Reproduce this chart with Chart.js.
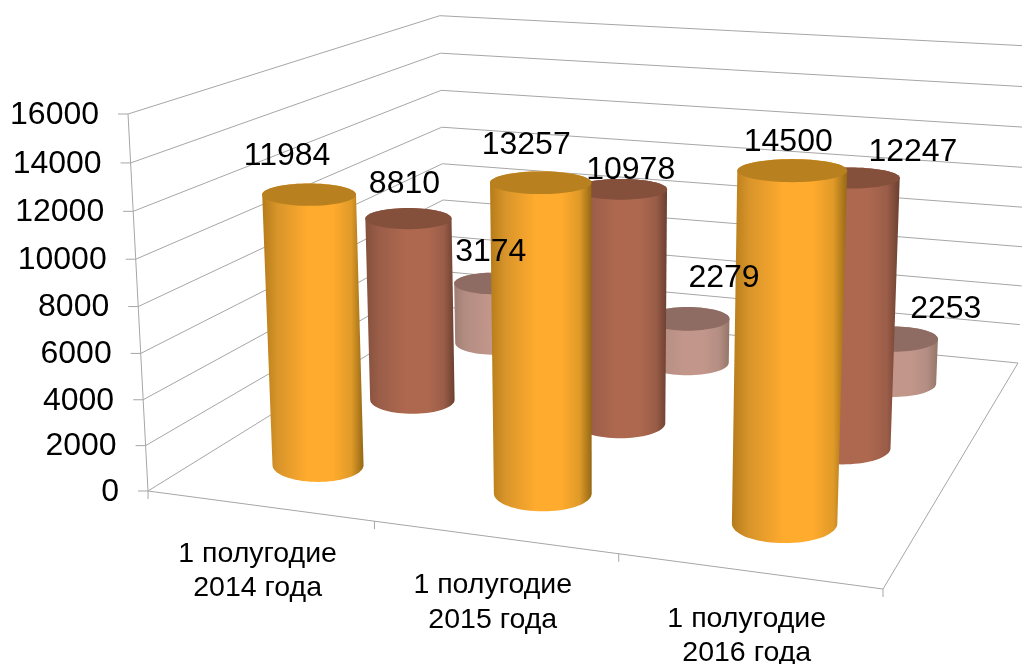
<!DOCTYPE html>
<html><head><meta charset="utf-8">
<style>html,body{margin:0;padding:0;background:#fff}canvas{display:block}</style>
<script src="https://cdn.jsdelivr.net/npm/chart.js@4/dist/chart.umd.min.js"></script>
</head><body><canvas id="c" width="1022" height="664"></canvas>
<script>
const categories = [['1 полугодие','2014 года'],['1 полугодие','2015 года'],['1 полугодие','2016 года']];
const seriesFront = [11984,13257,14500];
const seriesMiddle = [8810,10978,12247];
const seriesBack = [3174,2279,2253];
const yMin = 0, yMax = 16000, yStep = 2000;

// View of the 3D box: floor corners and the vanishing point of the vertical
const A={x:148,y:491},B={x:883,y:589},C={x:1018,y:363},D={x:445,y:307},TOP={x:128,y:114},V={x:600,y:9019};
function makeProjection(){
  const dx1=B.x-C.x,dx2=D.x-C.x,sx=A.x-B.x+C.x-D.x,dy1=B.y-C.y,dy2=D.y-C.y,sy=A.y-B.y+C.y-D.y;
  const d=dx1*dy2-dx2*dy1,g=(sx*dy2-dx2*sy)/d,k=(dx1*sy-sx*dy1)/d;
  const a=B.x-A.x+g*B.x,b=D.x-A.x+k*D.x,c=A.x,e=B.y-A.y+g*B.y,f=D.y-A.y+k*D.y,h0=A.y;
  const s=(A.y-TOP.y)/(TOP.y-V.y);
  return (u,v,h)=>{const w=g*u+k*v+1+s*h;
    return {x:(a*u+b*v+c+s*h*V.x)/w,y:(e*u+f*v+h0+s*h*V.y)/w};};
}
const P=makeProjection();
const GRID='#a6a6a6',FONT='"Liberation Sans",Arial,sans-serif';
const RADIUS_U=.07,RADIUS_V=.075;
const DEPTH=[.172,.49,.82];
const LABEL_OFFSET=[[[-22,-38],[-14.5,-38],[-4,-28]],[[-4,-34],[10,-19],[63,-26]],[[-3,-31],[36.5,-41],[52.5,-30]]];
const SHADES=[
 {edgeL:'#b57c1a',midL:'#d8942a',lit:'#ffab2e',midR:'#e09a28',edgeR:'#946815',top:'#b8801f'},
 {edgeL:'#84503c',midL:'#9a5d48',lit:'#ae6850',midR:'#9a5d48',edgeR:'#6b3f30',top:'#84503c'},
 {edgeL:'#a07e74',midL:'#b48d82',lit:'#c2968a',midR:'#b48d82',edgeR:'#957569',top:'#8e6c64'}];

function ring(cu,cv,h){
  const e=.01,c=P(cu,cv,h);
  const a=RADIUS_U*(P(cu+e,cv,h).x-P(cu-e,cv,h).x)/(2*e);
  const b=RADIUS_V*Math.abs(P(cu,cv+e,h).y-P(cu,cv-e,h).y)/(2*e);
  const p=[];for(let i=0;i<72;i++){const t=i/72*2*Math.PI;
  p.push({x:c.x+a*Math.cos(t),y:c.y+b*Math.sin(t)});}return p;}
function hull(pts){const s=pts.slice().sort((a,b)=>a.x-b.x||a.y-b.y);
  const cr=(o,a,b)=>(a.x-o.x)*(b.y-o.y)-(a.y-o.y)*(b.x-o.x);const lo=[],up=[];
  for(const p of s){while(lo.length>1&&cr(lo[lo.length-2],lo[lo.length-1],p)<=0)lo.pop();lo.push(p);}
  for(const p of s.slice().reverse()){while(up.length>1&&cr(up[up.length-2],up[up.length-1],p)<=0)up.pop();up.push(p);}
  return lo.slice(0,-1).concat(up.slice(0,-1));}
function poly(ctx,p){ctx.beginPath();p.forEach((q,i)=>i?ctx.lineTo(q.x,q.y):ctx.moveTo(q.x,q.y));ctx.closePath();}
function drawCylinder(ctx,cu,cv,h,sh){
  const bot=ring(cu,cv,0),top=ring(cu,cv,h),body=hull(bot.concat(top));
  const xs=body.map(p=>p.x),x0=Math.min(...xs),x1=Math.max(...xs);
  const gr=ctx.createLinearGradient(x0,0,x1,0);
  gr.addColorStop(0,sh.edgeL);gr.addColorStop(.15,sh.midL);gr.addColorStop(.45,sh.lit);gr.addColorStop(.7,sh.lit);gr.addColorStop(.88,sh.midR);gr.addColorStop(1,sh.edgeR);
  ctx.fillStyle=gr;poly(ctx,body);ctx.fill();
  ctx.fillStyle=sh.top;poly(ctx,top);ctx.fill();
}
function hOf(yS,val){return (yS.bottom-yS.getPixelForValue(val))/(yS.bottom-yS.top);}
function uOf(xS,i){return (xS.getPixelForValue(i)-xS.left)/(xS.right-xS.left);}

const box3d={id:'box3d',
 afterDatasetsUpdate(chart){
  const xS=chart.scales.x,yS=chart.scales.y;
  chart.data.datasets.forEach((ds,j)=>{
   chart.getDatasetMeta(j).data.forEach((el,i)=>{
    const cu=uOf(xS,i),cv=DEPTH[j],h=hOf(yS,ds.data[i]);
    const c=P(cu,cv,h),b=P(cu,cv,0);
    el.x=c.x;el.y=c.y;el.base=b.y;
    el.draw=ctx=>drawCylinder(ctx,cu,cv,h,SHADES[j]);
   });
  });
 },
 beforeDatasetsDraw(chart){
  const ctx=chart.ctx,xS=chart.scales.x,yS=chart.scales.y;
  ctx.save();ctx.strokeStyle=GRID;ctx.lineWidth=1;
  const seg=(a,b)=>{ctx.beginPath();ctx.moveTo(a.x,a.y);ctx.lineTo(b.x,b.y);ctx.stroke();};
  yS.ticks.forEach(t=>{const h=hOf(yS,t.value),a=P(0,0,h),d=P(0,1,h),c=P(1,1,h);
    seg(a,d);seg(d,c);seg(a,{x:a.x-10,y:a.y});});
  seg(P(0,0,0),P(0,0,1));seg(P(0,0,0),P(1,0,0));seg(P(1,0,0),P(1,1,0));
  [0,1/3,2/3,1].forEach(u=>{const a=P(u,0,0);seg(a,{x:a.x,y:a.y+8});});
  ctx.restore();
 },
 afterDatasetsDraw(chart){
  const ctx=chart.ctx,xS=chart.scales.x,yS=chart.scales.y;
  ctx.save();ctx.fillStyle='#000';ctx.textBaseline='middle';
  ctx.font='32px '+FONT;ctx.textAlign='right';
  yS.ticks.forEach(t=>{const a=P(0,0,hOf(yS,t.value));ctx.fillText(String(t.value),a.x-29,a.y+1);});
  ctx.textAlign='center';
  chart.data.datasets.forEach((ds,j)=>ds.data.forEach((val,i)=>{
    const c=P(uOf(xS,i),DEPTH[j],hOf(yS,val)),o=LABEL_OFFSET[j][i];
    ctx.fillText(String(val),c.x+o[0],c.y+o[1]);}));
  ctx.font='28.5px '+FONT;
  categories.forEach((lines,i)=>{const a=P(uOf(xS,i),0,0);
    lines.forEach((s,n)=>ctx.fillText(s,a.x-1.5,a.y+48+n*34.5));});
  ctx.restore();
 }};

new Chart(document.getElementById('c'),{
 type:'bar',
 data:{labels:categories,datasets:[
  {label:'Ряд 1',data:seriesFront,backgroundColor:'#ffab2e',clip:false},
  {label:'Ряд 2',data:seriesMiddle,backgroundColor:'#ae6850',clip:false},
  {label:'Ряд 3',data:seriesBack,backgroundColor:'#c2968a',clip:false}]},
 options:{responsive:false,animation:false,events:[],
  layout:{padding:0},
  plugins:{legend:{display:false},title:{display:false},tooltip:{enabled:false}},
  scales:{x:{display:false},y:{display:false,min:yMin,max:yMax,ticks:{stepSize:yStep}}}},
 plugins:[box3d]});
</script></body></html>
